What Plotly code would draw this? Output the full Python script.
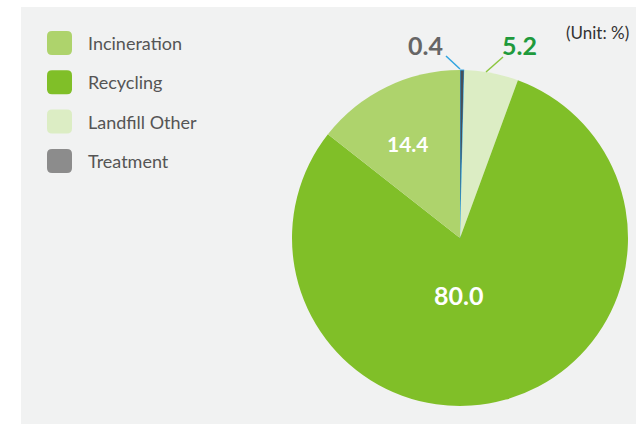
import plotly.graph_objects as go

W, H = 636, 424

labels = ["Incineration", "Recycling", "Landfill Other", "Treatment"]
values = [14.4, 80.0, 5.2, 0.4]
slice_colors = ["#aed36c", "#80bf28", "#dcedc4", "#46505a"]
slice_line_colors = ["#aed36c", "#80bf28", "#dcedc4", "#2fa4e0"]
slice_line_widths = [0, 0, 0, 1]
legend_colors = ["#aed36c", "#80bf28", "#dcedc4", "#8c8c8c"]
value_text = ["14.4", "80.0", "5.2", "0.4"]

FONT = "Lato, 'Open Sans', sans-serif"

def fx(x):  # page px -> paper
    return x / W

def fy(y):
    return 1 - y / H

fig = go.Figure()

# pie centred at page (460, 238), radius 168 px; clockwise from 12 o'clock in reverse legend order
cx, cy, r = 460, 238, 168
fig.add_trace(go.Pie(
    labels=labels[::-1], values=values[::-1], sort=False, direction="clockwise", rotation=0,
    marker=dict(colors=slice_colors[::-1],
                line=dict(color=slice_line_colors[::-1], width=slice_line_widths[::-1])),
    textinfo="none", hoverinfo="label+value", showlegend=False,
    domain=dict(x=[fx(cx - r), fx(cx + r)], y=[fy(cy + r), fy(cy - r)]),
))

shapes = [dict(type="rect", xref="x", yref="y", x0=21, x1=W + 2, y0=7, y1=H + 2,
               fillcolor="#f1f2f2", line=dict(width=0), layer="below")]

def rrect(x0, y0, x1, y1, rad):
    return (f"M{x0+rad},{y0} L{x1-rad},{y0} Q{x1},{y0} {x1},{y0+rad} "
            f"L{x1},{y1-rad} Q{x1},{y1} {x1-rad},{y1} L{x0+rad},{y1} "
            f"Q{x0},{y1} {x0},{y1-rad} L{x0},{y0+rad} Q{x0},{y0} {x0+rad},{y0} Z")

annotations = []
for i, (lab, col) in enumerate(zip(labels, legend_colors)):
    yc = 43 + i * 39.3
    shapes.append(dict(type="path", xref="x", yref="y", path=rrect(47, yc - 12, 72, yc + 12, 5),
                       fillcolor=col, line=dict(width=0), layer="above"))
    annotations.append(dict(x=86, y=yc, xref="x", yref="y", text=lab, showarrow=False,
                            xanchor="left", yanchor="middle",
                            font=dict(family=FONT, size=18, color="#555555")))

# leader lines
shapes.append(dict(type="line", xref="x", yref="y", x0=446, y0=56, x1=460, y1=69,
                   line=dict(color="#2fa4e0", width=1.5)))
shapes.append(dict(type="line", xref="x", yref="y", x0=503, y0=57, x1=486, y1=72,
                   line=dict(color="#8cc63f", width=1.5)))

# value labels
vals = [
    dict(x=408, y=143, text=f"<b>{value_text[0]}</b>", font=dict(family=FONT, size=21, color="white")),
    dict(x=458, y=295, text=f"<b>{value_text[1]}</b>", font=dict(family=FONT, size=25, color="white")),
    dict(x=519, y=45, text=f"<b>{value_text[2]}</b>", font=dict(family=FONT, size=25, color="#1f9a3c")),
    dict(x=425, y=45, text=f"<b>{value_text[3]}</b>", font=dict(family=FONT, size=25, color="#666666")),
    dict(x=597, y=32, text="(Unit: %)", font=dict(family=FONT, size=17, color="#333333")),
]
for a in vals:
    a.update(xref="x", yref="y", showarrow=False, xanchor="center", yanchor="middle")
annotations += vals

fig.update_layout(
    width=W, height=H, margin=dict(l=0, r=0, t=0, b=0),
    paper_bgcolor="white", plot_bgcolor="rgba(0,0,0,0)",
    xaxis=dict(range=[0, W], visible=False, domain=[0, 1], fixedrange=True),
    yaxis=dict(range=[H, 0], visible=False, domain=[0, 1], fixedrange=True),
    shapes=shapes, annotations=annotations, showlegend=False,
)

fig.write_html("out.html", config={"displayModeBar": False},
               post_script="document.body.style.margin='0';document.body.style.overflow='hidden';")
